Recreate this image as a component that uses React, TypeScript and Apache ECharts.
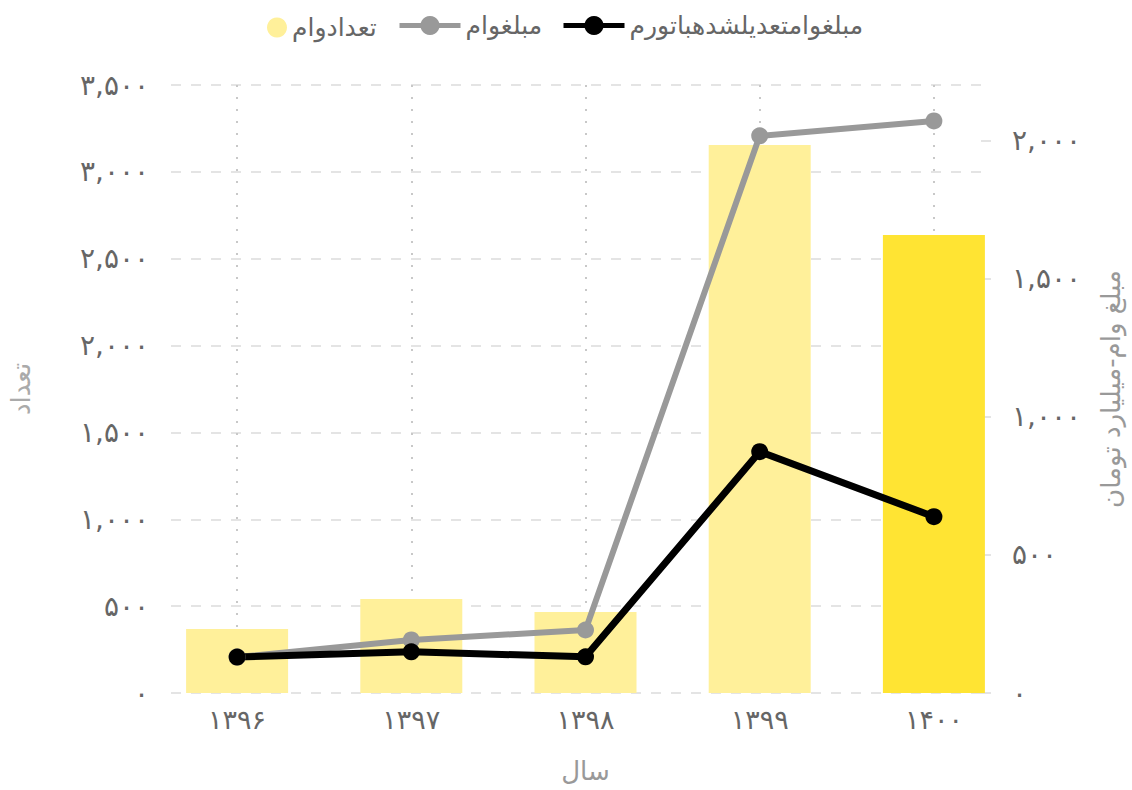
import React, { useEffect, useRef } from "react";
import * as echarts from "echarts";

// ---- data ----
const categories = ["۱۳۹۶", "۱۳۹۷", "۱۳۹۸", "۱۳۹۹", "۱۴۰۰"];
const loanCounts = [368, 541, 466, 3155, 2637];
const loanAmounts = [130, 192, 228, 2016, 2070];
const loanAmountsInflationAdjusted = [130, 149, 131, 873, 638];
const seriesNames = ["تعدادوام", "مبلغوام", "مبلغوامتعدیلشدهباتورم"];
const axisNames = { x: "سال", left: "تعداد", right: "مبلغ وام-میلیارد تومان" };
const leftAxisRange = [0, 3500];
const rightAxisRange = [0, 2200];
const tickStep = 500;
const persianDigits = ["۰", "۱", "۲", "۳", "۴", "۵", "۶", "۷", "۸", "۹"];

const FONT = "'DejaVu Sans', sans-serif";
const toFa = (v: number) =>
  Math.round(v)
    .toLocaleString("en-US")
    .replace(/\d/g, (d) => persianDigits[+d]);

export default function App() {
  const ref = useRef<HTMLDivElement>(null);
  useEffect(() => {
    if (!ref.current) return;
    const chart = echarts.init(ref.current, undefined, { renderer: "svg" });
    const lightYellow = "#FFF09A";
    const strongYellow = "#FFE433";
    const legendText = { color: "#666", fontSize: 25, fontFamily: FONT };
    chart.setOption({
      animation: false,
      backgroundColor: "#fff",
      textStyle: { fontFamily: FONT },
      legend: [
        {
          data: [{ name: seriesNames[0], icon: "circle" }],
          left: 262,
          top: 10,
          itemWidth: 20,
          itemHeight: 20,
          textStyle: legendText,
        },
        {
          data: [seriesNames[1]],
          left: 392,
          top: 8,
          itemWidth: 61,
          itemHeight: 24,
          lineStyle: { width: 5 },
          textStyle: legendText,
        },
        {
          data: [seriesNames[2]],
          left: 556,
          top: 8,
          itemWidth: 61,
          itemHeight: 24,
          lineStyle: { width: 5 },
          textStyle: legendText,
        },
      ],
      grid: [
        { left: 167, right: 128, top: 85, bottom: 97 },
        { left: 150, right: 111, top: 85, bottom: 97 },
        { left: 237, right: 198, top: 85, bottom: 97 },
      ],
      xAxis: [
        {
          gridIndex: 0,
          type: "category",
          data: categories,
          show: false,
        },
        {
          gridIndex: 1,
          type: "category",
          data: categories,
          axisLine: { show: false },
          axisTick: { show: false },
          axisLabel: { color: "#666", fontSize: 27, margin: 13, fontFamily: FONT },
          splitLine: { show: false },
          name: axisNames.x,
          nameLocation: "middle",
          nameGap: 65,
          nameTextStyle: { color: "#999", fontSize: 26, fontFamily: FONT },
        },
        {
          gridIndex: 2,
          type: "category",
          data: categories,
          boundaryGap: false,
          axisLine: { show: false },
          axisTick: { show: false },
          axisLabel: { show: false },
          splitLine: {
            show: true,
            lineStyle: { color: "#c8c8c8", width: 2, type: [2, 10] },
          },
        },
      ],
      yAxis: [
        {
          gridIndex: 0,
          type: "value",
          position: "left",
          min: leftAxisRange[0],
          max: leftAxisRange[1],
          interval: tickStep,
          axisLine: { show: false },
          axisTick: { show: false },
          axisLabel: {
            color: "#666",
            fontSize: 28,
            margin: 22,
            fontFamily: FONT,
            formatter: (v: number) => toFa(v),
          },
          splitLine: {
            show: true,
            lineStyle: { color: "#e4e4e4", width: 2, type: [10, 10] },
          },
          name: axisNames.left,
          nameLocation: "middle",
          nameGap: 137,
          nameTextStyle: { color: "#aaa", fontSize: 26, fontFamily: FONT },
        },
        {
          gridIndex: 0,
          type: "value",
          position: "right",
          min: rightAxisRange[0],
          max: rightAxisRange[1],
          interval: tickStep,
          axisLine: { show: false },
          axisTick: {
            show: true,
            inside: true,
            length: 10,
            lineStyle: { color: "#e4e4e4", width: 2 },
          },
          axisLabel: {
            color: "#666",
            fontSize: 28,
            margin: 21,
            fontFamily: FONT,
            showMaxLabel: false,
            formatter: (v: number) => toFa(v),
          },
          splitLine: { show: false },
          name: axisNames.right,
          nameLocation: "middle",
          nameGap: 107,
          nameTextStyle: { color: "#999", fontSize: 26, fontFamily: FONT },
        },
        {
          gridIndex: 1,
          type: "value",
          min: leftAxisRange[0],
          max: leftAxisRange[1],
          show: false,
          splitLine: { show: false },
        },
        {
          gridIndex: 1,
          type: "value",
          min: rightAxisRange[0],
          max: rightAxisRange[1],
          show: false,
          splitLine: { show: false },
        },
        {
          gridIndex: 2,
          type: "value",
          min: leftAxisRange[0],
          max: leftAxisRange[1],
          show: false,
          splitLine: { show: false },
        },
      ],
      series: [
        {
          name: seriesNames[0],
          type: "bar",
          xAxisIndex: 1,
          yAxisIndex: 2,
          barWidth: 102,
          itemStyle: { color: lightYellow },
          data: loanCounts.map((v, i) =>
            i === loanCounts.length - 1
              ? { value: v, itemStyle: { color: strongYellow } }
              : v
          ),
        },
        {
          name: seriesNames[1],
          type: "line",
          xAxisIndex: 1,
          yAxisIndex: 3,
          symbol: "circle",
          symbolSize: 17,
          lineStyle: { color: "#999", width: 6 },
          itemStyle: { color: "#999" },
          data: loanAmounts,
        },
        {
          name: seriesNames[2],
          type: "line",
          xAxisIndex: 1,
          yAxisIndex: 3,
          symbol: "circle",
          symbolSize: 17,
          lineStyle: { color: "#000", width: 7 },
          itemStyle: { color: "#000" },
          data: loanAmountsInflationAdjusted,
        },
      ],
    });
    return () => chart.dispose();
  }, []);
  return (
    <div
      ref={ref}
      style={{ position: "fixed", left: 0, top: 0, width: 1132, height: 790 }}
    />
  );
}
